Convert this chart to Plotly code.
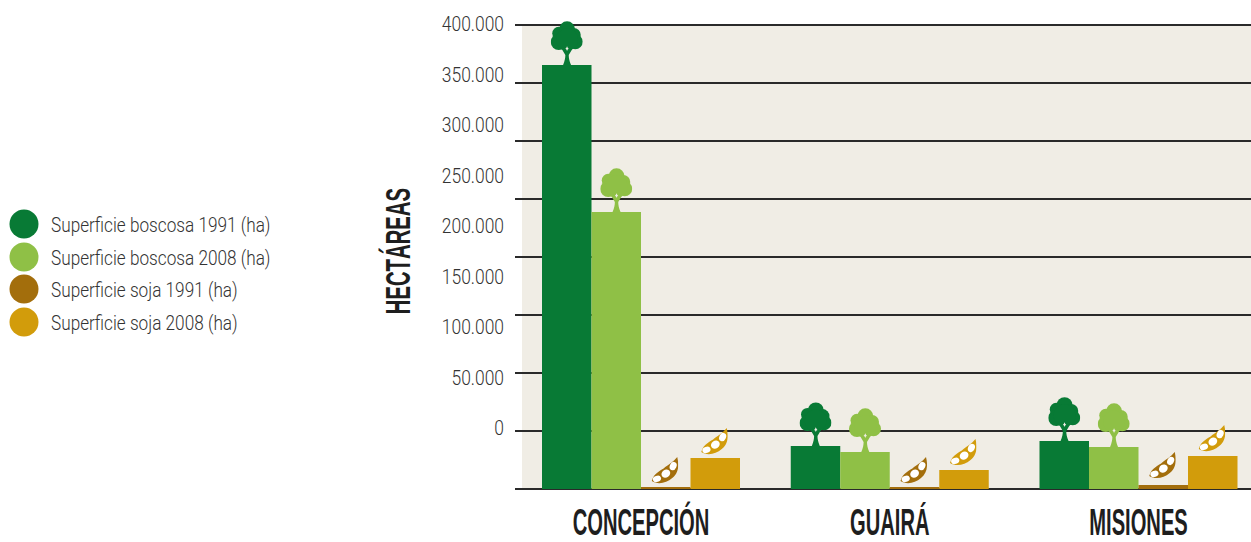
import base64
import plotly.graph_objects as go

# ---- data (hectares) ----
departments = ["CONCEPCIÓN", "GUAIRÁ", "MISIONES"]
forest_1991 = [365500, 37000, 41400]
forest_2008 = [238800, 31900, 36200]
soy_1991 = [1700, 1700, 3500]
soy_2008 = [26700, 16400, 28400]
series_names = ["Superficie boscosa 1991 (ha)", "Superficie boscosa 2008 (ha)",
                "Superficie soja 1991 (ha)", "Superficie soja 2008 (ha)"]
y_ticks = [0, 50000, 100000, 150000, 200000, 250000, 300000, 350000, 400000]

# ---- style ----
W, H = 1251, 542
colors = ["#087a35", "#8fc046", "#a36e0c", "#d29c0b"]
BG = "#f0ede5"
LINE = "#2a2a2a"
TEXT = "#333333"
TITLE = "#1e1e1e"
SANS = "Liberation Sans, Arial, sans-serif"
LIGHT = "Roboto, Liberation Sans, sans-serif"

PLOT_L, PLOT_R, PLOT_T, PLOT_B = 515, 1251, 25, 489
DOMAIN_T = 12                 # axes extend above the top gridline so icons are not clipped
px_x = 248.75                 # pixels per category
px_y = (PLOT_B - PLOT_T) / 400000
x0_px = 641                   # pixel centre of first group
BAR_W = 0.199
GAP = 1 - 4 * BAR_W
LABEL_ZERO_PX, LABEL_TOP_PX = 428, 24
label_k = 400000 / (LABEL_ZERO_PX - LABEL_TOP_PX)


def svg_uri(body, w, h):
    svg = f'<svg xmlns="http://www.w3.org/2000/svg" viewBox="0 0 {w} {h}" width="{w*4}" height="{h*4}">{body}</svg>'
    return "data:image/svg+xml;base64," + base64.b64encode(svg.encode()).decode()


def tree_icon(c):
    crown = [(16.3, 8.3, 8), (8, 12.3, 6.5), (23, 14, 7), (8, 21, 8), (24.5, 20.7, 7.5), (16.3, 18.5, 11)]
    body = "".join(f'<circle cx="{x}" cy="{y}" r="{r}" fill="{c}"/>' for x, y, r in crown)
    body += f'<path d="M12.3 44 C14 40 14.6 37 14.6 34 L11 28 L21.6 28 L18 34 C18 37 18.6 40 20.3 44 Z" fill="{c}"/>'
    body += f'<path d="M16.3 25.2 L17.1 27 L18 27.8 L16.9 28.5 L16.3 30 L15.7 28.5 L14.6 27.8 L15.5 27 Z" fill="{BG}"/>'
    return svg_uri(body, 32, 44)


def pod_icon(c):
    body = f'<path d="M0.5 24 C3 15 10 14 14 10 C18 7 22 5 26 0 C28 8 27.5 16 21 21 C15 26 7 28 0.5 24 Z" fill="{c}"/>'
    for x, y, rx, ry, a in [(5.7, 21.9, 4.2, 3.1, -20), (14.6, 16.6, 4.6, 3.9, -35), (21.9, 9, 3.3, 4.3, 25)]:
        body += f'<ellipse cx="{x}" cy="{y}" rx="{rx}" ry="{ry}" fill="#ffffff" transform="rotate({a} {x} {y})"/>'
    return svg_uri(body, 27, 27)


fig = go.Figure()
all_series = [forest_1991, forest_2008, soy_1991, soy_2008]
idx = list(range(len(departments)))
for name, vals, col in zip(series_names, all_series, colors):
    fig.add_trace(go.Bar(x=idx, y=vals, name=name, marker=dict(color=col, line_width=0),
                         showlegend=False, xaxis="x", yaxis="y"))

# invisible trace keeps the label axis alive
fig.add_trace(go.Scatter(x=[0], y=[0], mode="markers", marker=dict(opacity=0), showlegend=False,
                         hoverinfo="skip", xaxis="x", yaxis="y2"))

# legend, drawn on a full-page pixel axis pair
leg_y = [224, 257, 289, 322]
leg_text_y = [y + 3 for y in leg_y]
fig.add_trace(go.Scatter(x=[24] * 4, y=leg_y, mode="markers", marker=dict(size=29, color=colors, line_width=0),
                         showlegend=False, hoverinfo="skip", xaxis="x3", yaxis="y3"))
fig.add_trace(go.Scatter(x=[51] * 4, y=leg_text_y, mode="text", text=series_names, textposition="middle right",
                         textfont=dict(family=LIGHT, size=20, color=TEXT, weight=300), showlegend=False,
                         hoverinfo="skip", xaxis="x3", yaxis="y3"))

# icons sitting on top of the bars
images = []
soy_lift = [[3, 3], [3, 4], [6, 4]]
for g in idx:
    for s in range(4):
        bar_x = g + (s - 1.5) * BAR_W
        v = all_series[s][g]
        if s < 2:
            images.append(dict(source=tree_icon(colors[s]), xref="x", yref="y", x=bar_x, y=v,
                               sizex=32 / px_x, sizey=44 / px_y,
                               xanchor="center", yanchor="bottom", sizing="stretch", layer="above"))
        else:
            images.append(dict(source=pod_icon(colors[s]), xref="x", yref="y", x=bar_x - 1 / px_x,
                               y=v + soy_lift[g][s - 2] / px_y, sizex=27 / px_x, sizey=27 / px_y,
                               xanchor="center", yanchor="bottom", sizing="stretch", layer="above"))

dom_y = [1 - PLOT_B / H, 1 - DOMAIN_T / H]
fig.update_layout(
    width=W, height=H, autosize=False,
    margin=dict(l=0, r=0, t=0, b=0),
    paper_bgcolor="#ffffff", plot_bgcolor="rgba(0,0,0,0)",
    separators=",.",
    barmode="group", bargap=GAP, bargroupgap=0,
    images=images,
    showlegend=False,
    xaxis=dict(domain=[PLOT_L / W, 1], range=[(PLOT_L - x0_px) / px_x, (PLOT_R - x0_px) / px_x],
               tickmode="array", tickvals=idx, ticktext=departments, showgrid=False, zeroline=False,
               showline=False, ticks="", tickangle=0, ticklabelstandoff=9, automargin=False,
               tickfont=dict(family=SANS, size=36, color=TITLE, weight="bold"), fixedrange=True),
    yaxis=dict(domain=dom_y, range=[0, (PLOT_B - DOMAIN_T) / px_y], tickvals=y_ticks, automargin=False,
               showticklabels=False, showgrid=True, gridcolor=LINE, gridwidth=1.6, zeroline=True,
               zerolinecolor=LINE, zerolinewidth=1.6, showline=False, ticks="", fixedrange=True),
    # tick labels in the reference are spaced tighter than the gridlines: separate label axis
    yaxis2=dict(domain=dom_y, overlaying="y", side="left", anchor="x", automargin=False,
                range=[-(PLOT_B - LABEL_ZERO_PX) * label_k, (LABEL_ZERO_PX - DOMAIN_T) * label_k], tickvals=y_ticks,
                tickformat=",d", showgrid=False, zeroline=False, showline=False, ticks="",
                ticklabelstandoff=10, tickfont=dict(family=LIGHT, size=21, color=TEXT, weight=300), fixedrange=True),
    xaxis3=dict(domain=[0, 1], range=[0, W], visible=False, fixedrange=True, anchor="y3", automargin=False),
    yaxis3=dict(domain=[0, 1], range=[H, 0], visible=False, fixedrange=True, anchor="x3", automargin=False),
    shapes=[dict(type="rect", xref="paper", yref="paper", x0=522 / W, x1=1, y0=1 - PLOT_B / H, y1=1 - PLOT_T / H,
                 fillcolor=BG, line_width=0, layer="below")],
    annotations=[dict(text="HECTÁREAS", xref="paper", yref="paper", x=397 / W, y=1 - 251 / H,
                      textangle=-90, showarrow=False, xanchor="center", yanchor="middle",
                      font=dict(family=SANS, size=35, color=TITLE, weight="bold"))],
)

# the reference type is a condensed face: condense real text horizontally around its anchor
post = """
document.body.style.margin='0';document.body.style.overflow='hidden';
function squeeze(sel,sx){document.querySelectorAll(sel).forEach(function(t){
 var x=+t.getAttribute('x')||0,y=+t.getAttribute('y')||0,tr=t.getAttribute('transform')||'';
 t.setAttribute('transform',tr+' translate('+x+','+y+') scale('+sx+',1) translate('+(-x)+','+(-y)+')');});}
squeeze('.xtick text',0.56);
squeeze('.y2tick text',0.83);
squeeze('.textpoint text',0.86);
squeeze('text.annotation-text',0.58);
"""
fig.write_html("out.html", post_script=post, config=dict(displayModeBar=False))
